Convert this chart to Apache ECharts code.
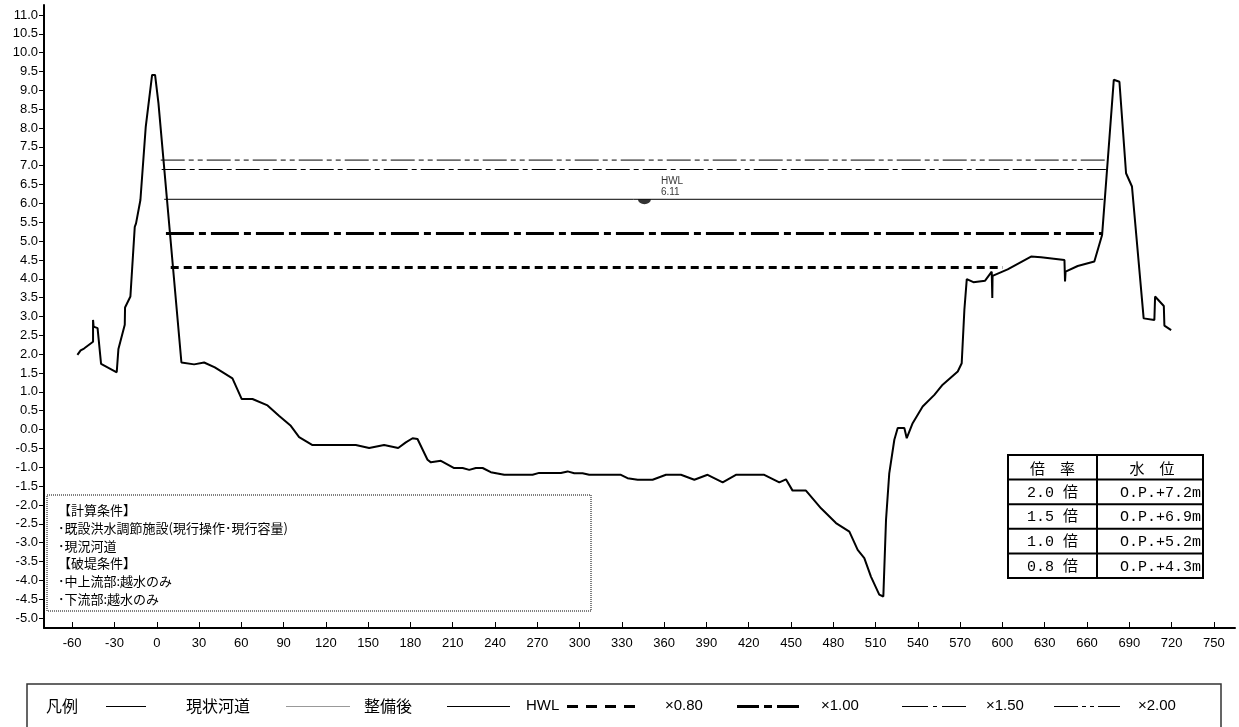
<!DOCTYPE html>
<html><head><meta charset="utf-8">
<script src="https://cdn.jsdelivr.net/npm/echarts@6/dist/echarts.min.js"></script>
<style>html,body{margin:0;padding:0;background:#fff}#c{width:1239px;height:727px}</style>
</head><body><div id="c"></div>
<script>
// ---- data ----
const groundX = [-56.3,-54.0,-51.6,-45.2,-45.2,-44.8,-42.0,-39.5,-28.4,-27.2,-26.0,-22.7,-22.5,-21.3,-18.7,-15.6,-14.7,-11.6,-7.8,-3.3,-1.2,1.2,17.5,26.5,33.6,41.2,53.7,60.3,67.9,78.6,86.9,95.1,101.0,110.5,141.2,150.7,161.3,171.3,176.7,181.5,185.0,192.1,194.5,201.6,211.0,217.0,221.7,226.4,231.2,237.0,246.5,266.6,271.3,286.7,291.5,296.2,302.1,306.8,329.3,334.0,341.2,351.8,361.3,371.9,381.4,390.8,401.5,410.9,431.0,441.7,446.4,451.1,460.6,471.3,481.9,491.4,497.3,502.0,506.7,512.6,515.5,517.4,519.7,523.3,525.7,530.4,532.1,536.3,543.4,551.7,557.6,568.3,571.1,573.0,574.7,579.4,587.7,592.4,592.8,593.0,603.7,620.3,627.4,644.0,644.4,644.8,653.4,665.2,670.7,675.9,679.0,683.0,687.7,691.9,700.2,707.8,708.3,714.5,714.9,719.7];
const groundY = [1.98,2.10,2.15,2.33,2.91,2.73,2.69,1.74,1.52,2.14,2.19,2.78,3.24,3.26,3.53,5.38,5.47,6.09,8.04,9.41,9.41,8.66,1.78,1.73,1.78,1.65,1.36,0.81,0.81,0.64,0.36,0.10,-0.20,-0.41,-0.41,-0.49,-0.41,-0.49,-0.34,-0.23,-0.25,-0.80,-0.87,-0.83,-1.02,-1.02,-1.07,-1.02,-1.02,-1.13,-1.20,-1.20,-1.15,-1.15,-1.11,-1.16,-1.16,-1.20,-1.20,-1.29,-1.33,-1.33,-1.20,-1.20,-1.33,-1.20,-1.40,-1.20,-1.20,-1.40,-1.32,-1.62,-1.62,-2.09,-2.48,-2.71,-3.19,-3.41,-3.90,-4.38,-4.43,-2.40,-1.16,-0.27,0.04,0.04,-0.23,0.17,0.61,0.92,1.19,1.54,1.76,3.18,3.99,3.91,3.95,4.19,3.49,4.08,4.25,4.59,4.57,4.50,3.93,4.19,4.34,4.46,5.16,7.73,9.28,9.23,6.80,6.45,2.95,2.91,3.53,3.28,2.76,2.64];

const levelNames  = ['×2.00', '×1.50', 'HWL', '×1.00', '×0.80'];
const levelValues = [7.15, 6.9, 6.11, 5.2, 4.3];
const levelStart  = [2.8, 3.5, 5.3, 6.5, 9.9];
const levelEnd    = [674.0, 673.4, 671.5, 671.1, 600.4];

const hwlMarkX = 346;
const hwlValue = 6.11;
const hwlLabel = 'HWL\n6.11';

const xTicks = [-60,-30,0,30,60,90,120,150,180,210,240,270,300,330,360,390,420,450,480,510,540,570,600,630,660,690,720,750];
const yTicks = [-5.0,-4.5,-4.0,-3.5,-3.0,-2.5,-2.0,-1.5,-1.0,-0.5,0.0,0.5,1.0,1.5,2.0,2.5,3.0,3.5,4.0,4.5,5.0,5.5,6.0,6.5,7.0,7.5,8.0,8.5,9.0,9.5,10.0,10.5,11.0];

const tableHeader = ['倍　率', '水　位'];
const tableRates  = ['2.0 倍', '1.5 倍', '1.0 倍', '0.8 倍'];
const tableLevels = ['O.P.+7.2m', 'O.P.+6.9m', 'O.P.+5.2m', 'O.P.+4.3m'];

const noteLines = ['【計算条件】', '･既設洪水調節施設(現行操作･現行容量)', '･現況河道', '【破堤条件】', '･中上流部:越水のみ', '･下流部:越水のみ'];

const legendTitle = '凡例';
const legendLabels = ['現状河道', '整備後', 'HWL', '×0.80', '×1.00', '×1.50', '×2.00'];

// ---- styles ----
const levelStyles = [
  { width: 1, type: [24, 4, 5, 4, 5, 4] },
  { width: 1, type: [24, 4, 5, 4] },
  { width: 1, type: 'solid' },
  { width: 3, type: [28, 5, 7, 5] },
  { width: 3, type: [8, 5] }
];
const CJK = '"Noto Sans CJK JP", "Liberation Sans", sans-serif';
const LAT = '"Liberation Sans", Arial, sans-serif';

const series = [];
series.push({
  name: '現状河道', type: 'line', showSymbol: false, silent: true,
  data: groundX.map((x, i) => [x, groundY[i]]),
  lineStyle: { color: '#000', width: 2 }, z: 5
});
levelNames.forEach((n, i) => {
  series.push({
    name: n, type: 'line', showSymbol: false, silent: true,
    data: [[levelStart[i], levelValues[i]], [levelEnd[i], levelValues[i]]],
    lineStyle: { color: '#000', width: levelStyles[i].width, type: levelStyles[i].type, cap: 'butt' }, z: 4
  });
});
series.push({
  name: 'HWL記号', type: 'scatter', silent: true,
  data: [[hwlMarkX, hwlValue]],
  symbol: 'path://M0,0 L20,0 A10,6 0 0 1 0,0 Z',
  symbolSize: [13, 5], symbolOffset: [0, 2.5],
  itemStyle: { color: '#000' },
  label: { show: true, formatter: hwlLabel, position: 'right', distance: 0, offset: [10, -15],
    fontSize: 10, lineHeight: 11, fontFamily: LAT, color: '#000', align: 'left' },
  z: 6
});

// ---- graphics: notes, table, legend ----
const graphics = [];
graphics.push({ type: 'rect', shape: { x: 47, y: 495, width: 544, height: 116 },
  style: { fill: 'none', stroke: '#000', lineWidth: 1, lineDash: [1, 1] } });
noteLines.forEach((t, i) => {
  graphics.push({ type: 'text', x: 58, y: 510 + i * 17.8,
    style: { text: t, font: '13px ' + CJK, fill: '#000', verticalAlign: 'middle', textAlign: 'left' } });
});

// table
const tL = 1008, tM = 1097, tR = 1203, tT = 455, rowH = 24.6;
const tB = tT + rowH * 5;
graphics.push({ type: 'rect', shape: { x: tL, y: tT, width: tR - tL, height: tB - tT },
  style: { fill: '#fff', stroke: '#000', lineWidth: 2 } });
for (let r = 1; r < 5; r++) {
  graphics.push({ type: 'line', shape: { x1: tL, y1: tT + rowH * r, x2: tR, y2: tT + rowH * r },
    style: { stroke: '#000', lineWidth: 2 } });
}
graphics.push({ type: 'line', shape: { x1: tM, y1: tT, x2: tM, y2: tB }, style: { stroke: '#000', lineWidth: 2 } });
const TF = '15px "Liberation Mono", "Noto Sans CJK JP", monospace';
graphics.push({ type: 'text', x: (tL + tM) / 2, y: tT + rowH / 2 + 1,
  style: { text: tableHeader[0], font: '15px ' + CJK, fill: '#000', textAlign: 'center', verticalAlign: 'middle' } });
graphics.push({ type: 'text', x: (tM + tR) / 2 + 2, y: tT + rowH / 2 + 1,
  style: { text: tableHeader[1], font: '15px ' + CJK, fill: '#000', textAlign: 'center', verticalAlign: 'middle' } });
tableRates.forEach((t, i) => {
  graphics.push({ type: 'text', x: (tL + tM) / 2, y: tT + rowH * (i + 1.5) + 1,
    style: { text: t, font: TF, fill: '#000', textAlign: 'center', verticalAlign: 'middle' } });
  graphics.push({ type: 'text', x: tR - 2, y: tT + rowH * (i + 1.5) + 1,
    style: { text: tableLevels[i], font: TF, fill: '#000', textAlign: 'right', verticalAlign: 'middle' } });
});

// legend
const LY = 706;
graphics.push({ type: 'rect', shape: { x: 27, y: 684, width: 1194, height: 80 },
  style: { fill: 'none', stroke: '#333', lineWidth: 1.5 } });
graphics.push({ type: 'text', x: 46, y: LY, style: { text: legendTitle, font: '16px ' + CJK, fill: '#000', verticalAlign: 'middle' } });
const legLines = [
  { x1: 106, x2: 146, stroke: '#000', w: 1, dash: null },
  { x1: 286, x2: 350, stroke: '#999', w: 1, dash: null },
  { x1: 447, x2: 510, stroke: '#000', w: 1, dash: null },
  { x1: 567, x2: 642, stroke: '#000', w: 3, dash: [11, 8] },
  { x1: 737, x2: 804, stroke: '#000', w: 3, dash: [22, 5, 8, 5] },
  { x1: 902, x2: 966, stroke: '#000', w: 1, dash: [26, 5, 4, 5] },
  { x1: 1054, x2: 1120, stroke: '#000', w: 1, dash: [24, 4, 4, 4, 4, 4] }
];
const legTextX = [186, 364, 526, 665, 821, 986, 1138];
legLines.forEach((l, i) => {
  graphics.push({ type: 'line', shape: { x1: l.x1, y1: LY + 0.5, x2: l.x2, y2: LY + 0.5 },
    style: { stroke: l.stroke, lineWidth: l.w, lineDash: l.dash } });
  graphics.push({ type: 'text', x: legTextX[i], y: LY,
    style: { text: legendLabels[i], font: (i < 2 ? '16px ' + CJK : '15px ' + LAT), fill: '#000', verticalAlign: 'middle' } });
});

const option = {
  animation: false,
  backgroundColor: '#fff',
  grid: { left: 44, right: 4, top: 5, bottom: 99, containLabel: false },
  xAxis: {
    type: 'value', min: -80, max: 765,
    axisLine: { show: true, onZero: false, lineStyle: { color: '#000', width: 2 } },
    axisTick: { show: true, inside: true, length: 6, customValues: xTicks, lineStyle: { color: '#000', width: 1 } },
    axisLabel: { customValues: xTicks, margin: 9, fontSize: 13, fontFamily: LAT, color: '#000' },
    splitLine: { show: false }
  },
  yAxis: {
    type: 'value', min: -5.265, max: 11.265,
    axisLine: { show: true, onZero: false, lineStyle: { color: '#000', width: 2 } },
    axisTick: { show: true, inside: false, length: 5, customValues: yTicks, lineStyle: { color: '#000', width: 1 } },
    axisLabel: { customValues: yTicks, margin: 6, fontSize: 13, fontFamily: LAT, color: '#000',
      formatter: v => Number(v).toFixed(1) },
    splitLine: { show: false }
  },
  series: series,
  graphic: graphics
};
const chart = echarts.init(document.getElementById('c'), null, { renderer: 'canvas' });
chart.setOption(option);
</script></body></html>
